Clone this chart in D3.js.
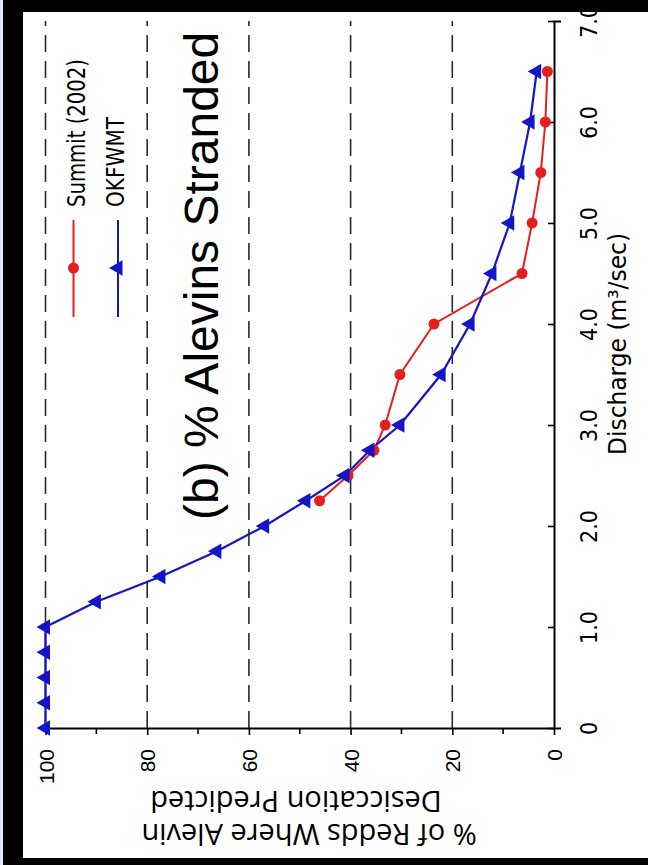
<!DOCTYPE html>
<html>
<head>
<meta charset="utf-8">
<script src="https://cdn.jsdelivr.net/npm/d3@7"></script>
<style>
  html, body { margin: 0; padding: 0; background: #000; }
  svg { display: block; }
</style>
</head>
<body>
<svg id="chart" width="648" height="865"></svg>
<script>
// ---- data ----
const okfwmtDischarge = [0, 0.25, 0.5, 0.75, 1.0, 1.25, 1.5, 1.75, 2.0, 2.25, 2.5, 2.75, 3.0, 3.5, 4.0, 4.5, 5.0, 5.5, 6.0, 6.5];
const okfwmtPercent   = [100, 100, 100, 100, 100, 90, 77.3, 66.3, 56.9, 48.8, 41.1, 36.2, 30.3, 22.2, 16.5, 12.2, 8.7, 6.7, 4.7, 3.4];
const summitDischarge = [2.25, 2.5, 2.75, 3.0, 3.5, 4.0, 4.5, 5.0, 5.5, 6.0, 6.5];
const summitPercent   = [46.1, 40.5, 35.4, 33.2, 30.3, 23.6, 6.3, 4.3, 2.6, 1.7, 1.3];
const percentTicks    = [0, 20, 40, 60, 80, 100];
const percentMinor    = [10, 30, 50, 70, 90];
const dischargeTicks  = [0, 1, 2, 3, 4, 5, 6, 7];
const gridPercents    = [20, 40, 60, 80, 100];
const seriesNames     = ["Summit (2002)", "OKFWMT"];
const titleText       = "(b) % Alevins Stranded";
const dischargeTitle  = "Discharge (m\u00B3/sec)";
const percentTitle    = ["% of Redds Where Alevin", "Desiccation Predicted"];

const RED = "#e4201f", BLUE = "#1515c8";
const svg = d3.select("#chart");

// background frame
svg.append("rect").attr("x", 0).attr("y", 0).attr("width", 648).attr("height", 865).attr("fill", "#000");
svg.append("rect").attr("x", 0).attr("y", 0).attr("width", 3).attr("height", 865).attr("fill", "#dfe9f7");
svg.append("rect").attr("x", 23).attr("y", 12).attr("width", 625).attr("height", 846).attr("fill", "#fff");

// scales: chart is drawn rotated (percent runs right->left along the bottom, discharge bottom->top on the right)
const pct = d3.scaleLinear().domain([100, 0]).range([45.5, 554]);
const q = d3.scaleLinear().domain([0, 7]).range([728, 21]);

// grid
svg.append("g").selectAll("line").data(gridPercents).join("line")
  .attr("x1", d => pct(d)).attr("x2", d => pct(d))
  .attr("y1", q(0)).attr("y2", q(7))
  .attr("stroke", "#2a2a2a").attr("stroke-width", 1.6).attr("stroke-dasharray", "17,9");

// percent axis (bottom)
const axB = svg.append("g").attr("transform", `translate(0,${q(0)})`)
  .call(d3.axisBottom(pct).tickValues(percentTicks).tickSize(7).tickSizeOuter(0).tickFormat(d3.format("d")));
axB.select(".domain").attr("stroke", "#000").attr("stroke-width", 2);
axB.selectAll(".tick line").attr("stroke", "#000").attr("stroke-width", 1.6);
axB.selectAll(".tick text")
  .attr("transform", "rotate(-90)").attr("x", -21).attr("y", 0).attr("dy", "0.36em")
  .attr("text-anchor", "end").attr("fill", "#000")
  .style("font-family", "'Liberation Sans', Arial, sans-serif").style("font-size", "21px");
svg.append("g").selectAll("line").data(percentMinor).join("line")
  .attr("x1", d => pct(d)).attr("x2", d => pct(d))
  .attr("y1", q(0)).attr("y2", q(0) + 6)
  .attr("stroke", "#000").attr("stroke-width", 1.6);

// discharge axis (right)
const axR = svg.append("g").attr("transform", `translate(${pct(0)},0)`)
  .call(d3.axisRight(q).tickValues(dischargeTicks).tickSizeInner(-6).tickSizeOuter(7)
    .tickFormat(d => d === 0 ? "0" : d3.format(".1f")(d)));
axR.select(".domain").attr("stroke", "#000").attr("stroke-width", 2);
axR.selectAll(".tick line").attr("stroke", "#000").attr("stroke-width", 1.6);
axR.selectAll(".tick text")
  .attr("transform", "rotate(-90)").attr("x", 0).attr("y", 43).attr("dy", 0)
  .attr("text-anchor", "middle").attr("fill", "#000")
  .style("font-family", "'Liberation Sans Narrow', 'DejaVu Sans Condensed', sans-serif").style("font-size", "23px");

// lines
const lineGen = d3.line().x(d => pct(d[1])).y(d => q(d[0]));
const okData = okfwmtDischarge.map((d, i) => [d, okfwmtPercent[i]]);
const suData = summitDischarge.map((d, i) => [d, summitPercent[i]]);

svg.append("path").datum(suData).attr("d", lineGen).attr("fill", "none").attr("stroke", RED).attr("stroke-width", 2);
svg.append("path").datum(okData).attr("d", lineGen).attr("fill", "none").attr("stroke", BLUE).attr("stroke-width", 2.2);

const tri = d3.symbol().type(d3.symbolTriangle).size(105);
svg.append("g").selectAll("circle").data(suData).join("circle")
  .attr("cx", d => pct(d[1])).attr("cy", d => q(d[0])).attr("r", 5.5).attr("fill", RED);
svg.append("g").selectAll("path").data(okData).join("path")
  .attr("d", tri).attr("fill", BLUE)
  .attr("transform", d => `translate(${pct(d[1])},${q(d[0])}) rotate(-90)`);

// legend
const legX = [73.5, 118], legTop = 220, legBot = 317, legMid = 268;
const legColors = [RED, BLUE];
const leg = svg.append("g");
legX.forEach((x, i) => {
  leg.append("line").attr("x1", x).attr("x2", x).attr("y1", legTop).attr("y2", legBot)
    .attr("stroke", legColors[i]).attr("stroke-width", 2);
  if (i === 0) leg.append("circle").attr("cx", x).attr("cy", legMid).attr("r", 5.5).attr("fill", RED);
  else leg.append("path").attr("d", tri).attr("fill", BLUE).attr("transform", `translate(${x},${legMid}) rotate(-90)`);
});
const legTextX = [85, 124], legLen = [148, 90];
seriesNames.forEach((t, i) => {
  leg.append("text").attr("transform", `translate(${legTextX[i]},207) rotate(-90)`)
    .attr("text-anchor", "start").attr("fill", "#000")
    .attr("textLength", legLen[i]).attr("lengthAdjust", "spacingAndGlyphs")
    .style("font-family", "'Liberation Sans Narrow', 'DejaVu Sans Condensed', sans-serif").style("font-size", "25px")
    .text(t);
});

// title
svg.append("text").attr("transform", `translate(218,520) rotate(-90)`)
  .attr("text-anchor", "start").attr("fill", "#000")
  .style("font-family", "'Liberation Sans', Arial, sans-serif").style("font-size", "48px")
  .text(titleText);

// discharge title
svg.append("text").attr("transform", `translate(626,455) rotate(-90)`)
  .attr("text-anchor", "start").attr("fill", "#000")
  .attr("textLength", 222).attr("lengthAdjust", "spacingAndGlyphs")
  .style("font-family", "'Liberation Sans Narrow', 'DejaVu Sans Condensed', sans-serif").style("font-size", "25px")
  .text(dischargeTitle);

// percent title (upside down, as the whole chart is turned)
const ptY = [824, 791], ptX = [309, 296];
percentTitle.forEach((t, i) => {
  svg.append("text").attr("transform", `translate(${ptX[i]},${ptY[i]}) rotate(180)`)
    .attr("text-anchor", "middle").attr("fill", "#000")
    .style("font-family", "'Open Sans', 'Noto Sans', sans-serif").style("font-size", "29px")
    .text(t);
});
</script>
</body>
</html>
